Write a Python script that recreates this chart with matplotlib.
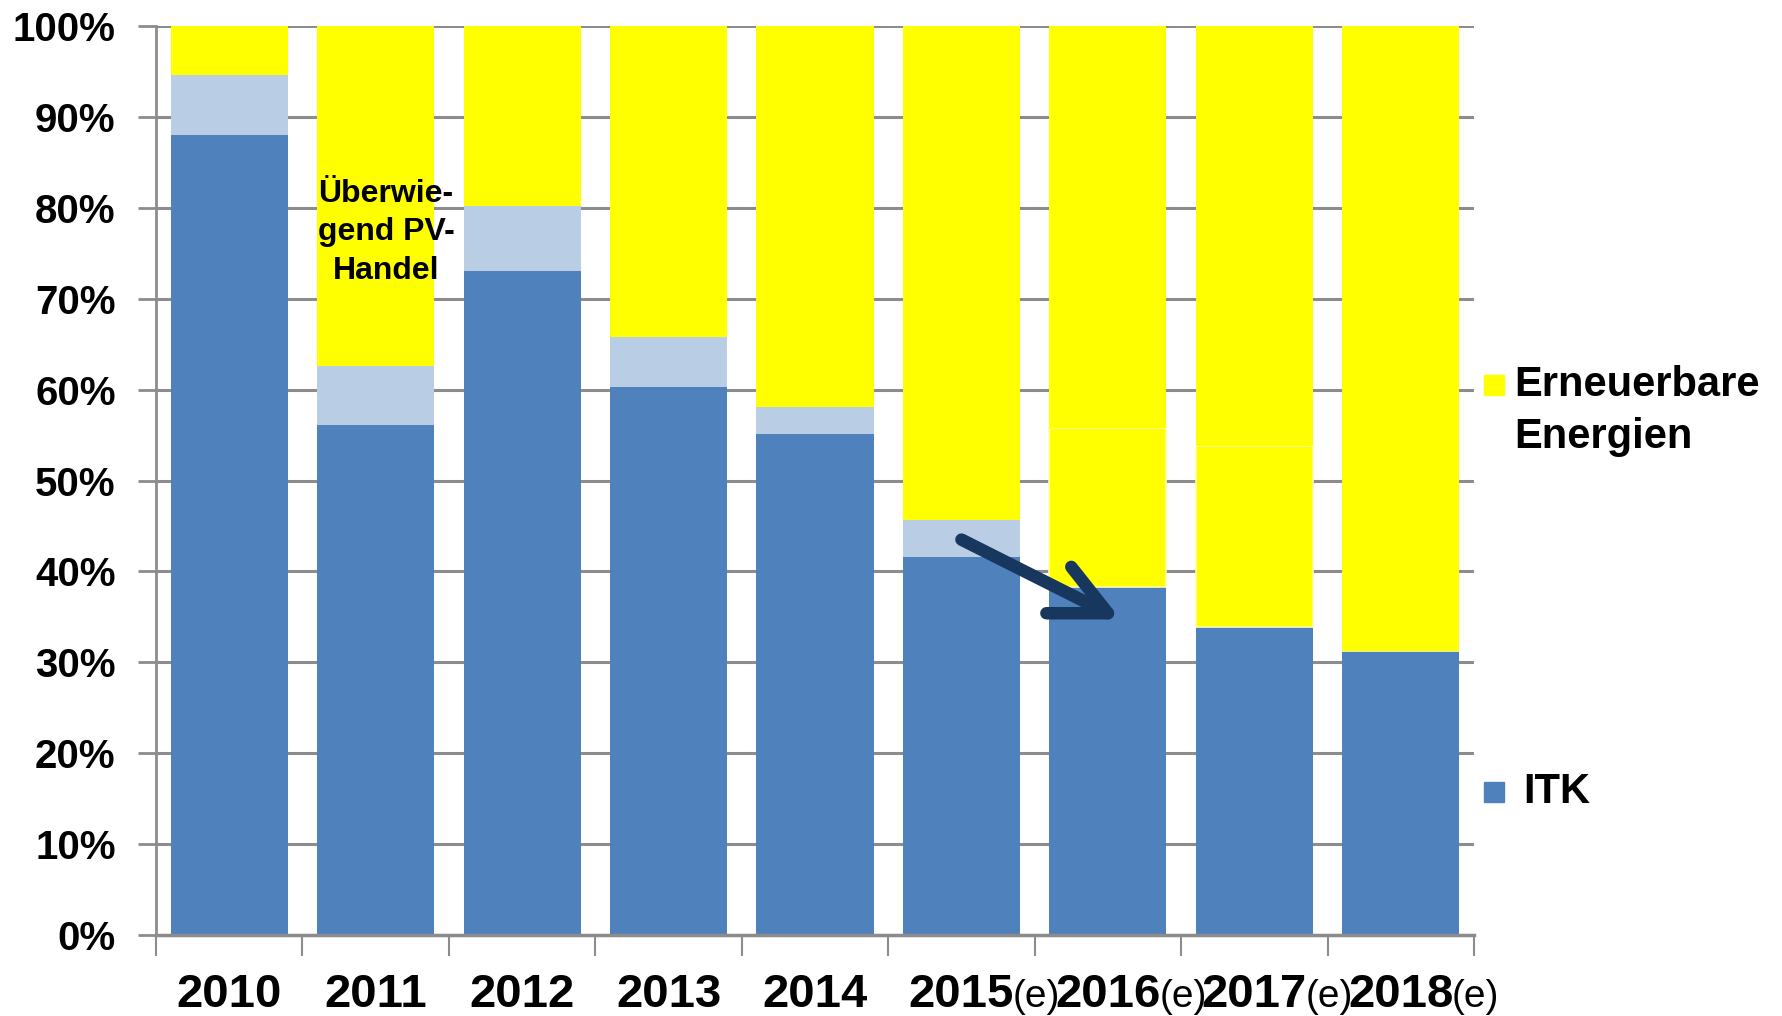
import numpy as np
import matplotlib
matplotlib.use("Agg")
import matplotlib.pyplot as plt
from matplotlib.patches import Rectangle

plt.rcParams['font.family'] = ['Liberation Sans', 'DejaVu Sans']

# Data (percent shares per year)
years = ['2010', '2011', '2012', '2013', '2014', '2015', '2016', '2017', '2018']
estimated = [False, False, False, False, False, True, True, True, True]
itk = [88.0, 56.1, 73.1, 60.3, 55.1, 41.6, 38.3, 33.9, 31.3]
middle = [6.6, 6.5, 7.1, 5.5, 3.0, 4.1, 17.5, 19.9, 0.0]
erneuerbare = [5.4, 37.4, 19.8, 34.2, 41.9, 54.3, 44.2, 46.2, 68.7]
y_ticks = [0, 10, 20, 30, 40, 50, 60, 70, 80, 90, 100]

blue = '#4F81BD'
light_blue = '#B9CDE5'
yellow = '#FFFF00'
grid_gray = '#8C8C8C'

fig = plt.figure(figsize=(17.83, 10.16), dpi=100)
ax = fig.add_axes([0.0875, 0.0797, 0.7392, 0.8947])

x = np.arange(len(years))
width = 0.8
itk_arr = np.array(itk)
mid_arr = np.array(middle)
ee_arr = np.array(erneuerbare)

# middle segment is light blue up to 2015, yellow afterwards
mid_colors = [yellow if est and i > 5 else light_blue for i, est in enumerate(estimated)]
mid_edges = ['#FFFFA8' if c == yellow else 'none' for c in mid_colors]

ax.bar(x, itk_arr, width, color=blue, zorder=2)
ax.bar(x, mid_arr, width, bottom=itk_arr, color=mid_colors,
       edgecolor=mid_edges, linewidth=1.2, zorder=2)
ax.bar(x, ee_arr, width, bottom=itk_arr + mid_arr, color=yellow, zorder=2)

ax.set_xlim(-0.5, len(years) - 0.5)
ax.set_ylim(0, 100)

# grid and axes
ax.set_yticks(y_ticks)
ax.set_yticklabels([f'{t}%' for t in y_ticks], fontsize=29, fontweight='bold')
ax.yaxis.grid(True, color=grid_gray, linewidth=2.2, zorder=0)
ax.set_axisbelow(True)
ax.tick_params(axis='y', length=13, width=2, color=grid_gray, pad=16)

ax.set_xticks(x)
ax.set_xticklabels([])
ax.tick_params(axis='x', which='major', length=0)
ax.set_xticks(np.arange(-0.5, len(years)), minor=True)
ax.tick_params(axis='x', which='minor', length=15, width=1.5, color=grid_gray)

for side in ['top', 'right']:
    ax.spines[side].set_visible(False)
ax.spines['left'].set_color(grid_gray)
ax.spines['left'].set_linewidth(2)
ax.spines['bottom'].set_color(grid_gray)
ax.spines['bottom'].set_linewidth(2.5)

# year labels with (e) for estimates
xt = ax.get_xaxis_transform()
for xi, yr, est in zip(x, years, estimated):
    ax.text(xi, -0.079, yr, transform=xt, ha='center', va='baseline',
            fontsize=34, fontweight='bold', clip_on=False)
    if est:
        ax.text(xi + 0.35, -0.079, '(e)', transform=xt, ha='left', va='baseline',
                fontsize=28, clip_on=False)

# annotation on 2011 bar
ax.text(1.07, 77.3, 'Überwie-\ngend PV-\nHandel', ha='center', va='center',
        fontsize=23, fontweight='bold', linespacing=1.38, zorder=3)

# arrow from 2015 towards 2016
arrow_color = '#17375E'
tip = (6.0, 35.4)
ax.plot([5.0, tip[0]], [43.5, tip[1]], color=arrow_color, lw=9,
        solid_capstyle='round', zorder=4)
ax.plot([5.75, tip[0], 5.58], [40.5, tip[1], 35.4], color=arrow_color, lw=9,
        solid_capstyle='round', solid_joinstyle='round', zorder=4)

# legend on the right
W, H = 1783.0, 1016.0
sq = 20
fig.patches.append(Rectangle((1484 / W, (H - 395) / H), sq / W, sq / H,
                             transform=fig.transFigure, color=yellow))
fig.text(1514 / W, (H - 385) / H, 'Erneuerbare', fontsize=30, fontweight='bold',
         va='center', ha='left')
fig.text(1514 / W, (H - 437) / H, 'Energien', fontsize=30, fontweight='bold',
         va='center', ha='left')
fig.patches.append(Rectangle((1484 / W, (H - 802) / H), sq / W, sq / H,
                             transform=fig.transFigure, color=blue))
fig.text(1523 / W, (H - 792) / H, 'ITK', fontsize=30, fontweight='bold',
         va='center', ha='left')

fig.savefig('out.png', dpi=100)
